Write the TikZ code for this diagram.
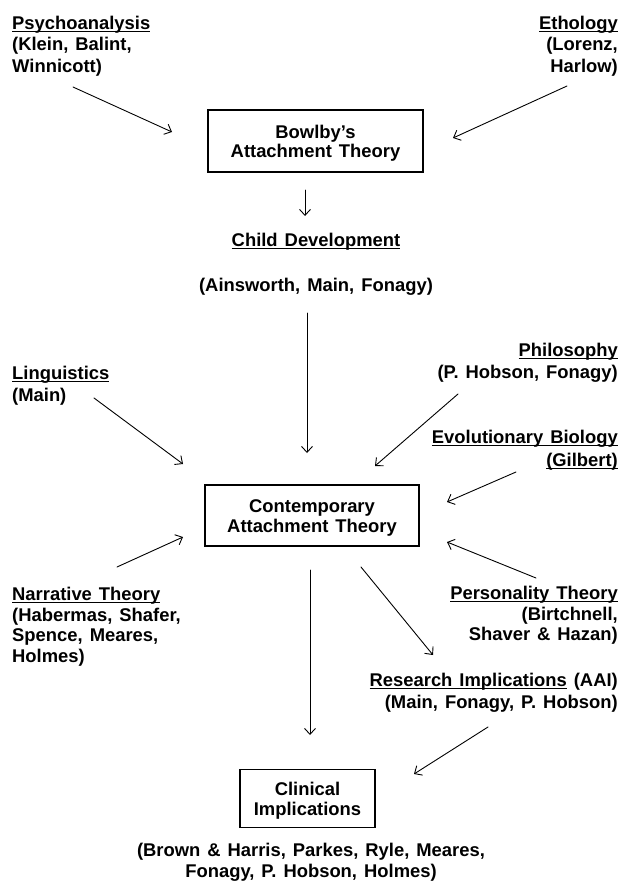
\documentclass[tikz,border=0pt]{standalone}
\usepackage{fontspec}
\setmainfont{Liberation Sans}
\usetikzlibrary{arrows.meta}
% underline drawn close to the baseline, crossing the descenders
\newcommand\ulx[1]{\setbox0\hbox{#1}\rlap{\rule[-2.6pt]{\wd0}{1.1pt}}\box0\relax}
% slightly wider word spaces
\newcommand\widesp{\spaceskip=7pt\relax}
% two centred lines, set a little low inside their frame
\newcommand\boxlines[2]{\raisebox{-3pt}[\height][\depth]{%
  \begin{tabular}{@{}c@{}}#1\\[-1.5pt]#2\end{tabular}}}
\begin{document}
\begin{tikzpicture}[x=1pt,y=-1pt,
  txt/.style={inner sep=0pt,
    font=\fontsize{18.4}{#1}\selectfont\bfseries\widesp},
  txt/.default=21.5,
  box/.style={draw, line width=1.1pt, inner sep=0pt,
    font=\fontsize{18.4}{21}\selectfont\bfseries\widesp},
  arr/.style={line width=0.9pt, line cap=round,
    -{Straight Barb[length=6pt,width=11pt,line width=0.9pt]}},
  faint/.style={arr, line width=0.6pt}]
\useasboundingbox (0,0) rectangle (624,883);

% sources and boxes (multi-line texts are placed by the baseline of their last line)
\node[txt, anchor=base west, align=left] (psy) at (12,72.5)
  {\ulx{Psychoanalysis}\\(Klein, Balint,\\Winnicott)};
\node[txt, anchor=base east, align=right] (eth) at (618,72.5)
  {\ulx{Ethology}\\(Lorenz,\\Harlow)};
\node[box, minimum width=215pt, minimum height=62pt] (bowlby) at (315.5,141)
  {\boxlines{Bowlby's}{Attachment Theory}};
\node[txt, anchor=base] (child) at (316,246.5) {\ulx{Child Development}};
\node[txt, anchor=base] (childref) at (316,291.5) {(Ainsworth, Main, Fonagy)};
\node[txt, anchor=base west, align=left] (ling) at (12,401)
  {\ulx{Linguistics}\\(Main)};
\node[txt, anchor=base east, align=right] (phil) at (618,378)
  {\ulx{Philosophy}\\(P. Hobson, Fonagy)};
\node[txt=23, anchor=base east, align=right] (evo) at (618,466.5)
  {\ulx{Evolutionary Biology}\\\ulx{(Gilbert)}};
\node[box, minimum width=214pt, minimum height=61pt] (cat) at (312,515.5)
  {\boxlines{Contemporary}{Attachment Theory}};
\node[txt=20.5, anchor=base west, align=left] (narr) at (12,662)
  {\ulx{Narrative Theory}\\(Habermas, Shafer,\\Spence, Meares,\\Holmes)};
\node[txt=20.5, anchor=base east, align=right] (pers) at (618,640.5)
  {\ulx{Personality Theory}\\(Birtchnell,\\Shaver \& Hazan)};
\node[txt=22, anchor=base east, align=right] (res) at (618,708.5)
  {\ulx{Research Implications} (AAI)\\(Main, Fonagy, P. Hobson)};
\node[box, minimum width=135pt, minimum height=58pt] (clin) at (307.5,798.5)
  {\boxlines{Clinical}{Implications}};
\node[txt, anchor=base, align=center] (clinref) at (311,877.5)
  {(Brown \& Harris, Parkes, Ryle, Meares,\\Fonagy, P. Hobson, Holmes)};

% arrow ends
\coordinate (psyA) at (73,87);    \coordinate (psyB) at (172,132);
\coordinate (ethA) at (567,86);   \coordinate (ethB) at (453,138);
\coordinate (bowA) at (305,190);  \coordinate (bowB) at (305,216);
\coordinate (chA)  at (307,313);  \coordinate (chB)  at (307,453);
\coordinate (linA) at (94,398);   \coordinate (linB) at (183,464);
\coordinate (phiA) at (458,394);  \coordinate (phiB) at (375,466);
\coordinate (evoA) at (516,472);  \coordinate (evoB) at (447,502);
\coordinate (narA) at (117,567);  \coordinate (narB) at (183,537);
\coordinate (perA) at (536,578);  \coordinate (perB) at (447,542);
\coordinate (catA) at (310,570);  \coordinate (catB) at (310,735);
\coordinate (rsA)  at (361,567);  \coordinate (rsB)  at (433,655);
\coordinate (reA)  at (488,727);  \coordinate (reB)  at (414,774);

% connectors
\draw[arr] (psyA) -- (psyB);
\draw[arr] (ethA) -- (ethB);
\draw[arr] (bowA) -- (bowB);
\draw[faint] (chA) -- (chB);
\draw[arr] (linA) -- (linB);
\draw[arr] (phiA) -- (phiB);
\draw[arr] (evoA) -- (evoB);
\draw[arr] (narA) -- (narB);
\draw[arr] (perA) -- (perB);
\draw[faint] (catA) -- (catB);
\draw[arr] (rsA) -- (rsB);
\draw[arr] (reA) -- (reB);
\end{tikzpicture}
\end{document}
